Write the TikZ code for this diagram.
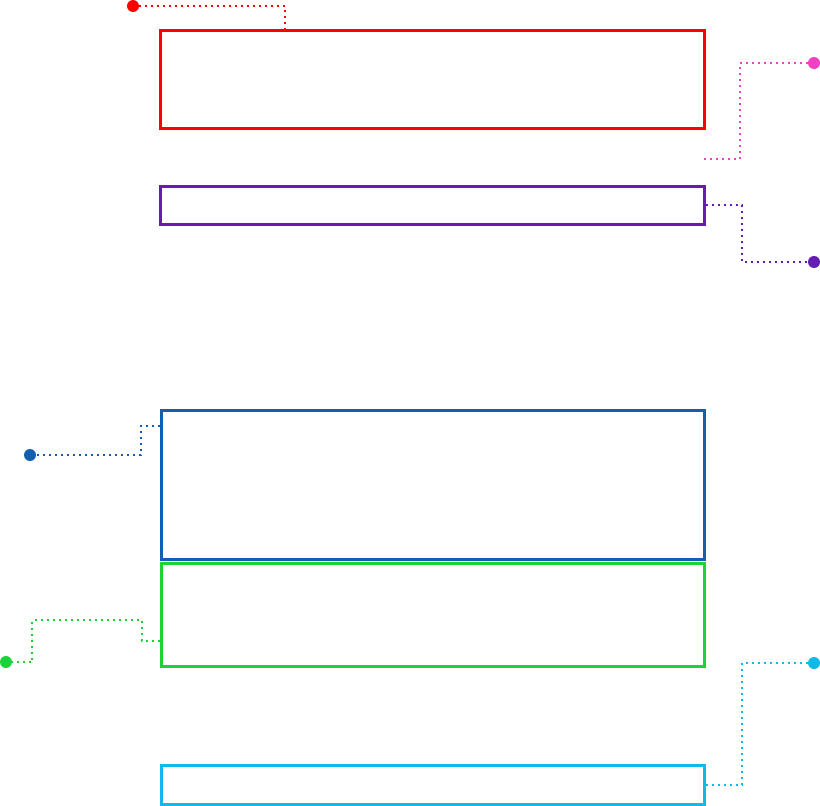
\documentclass[tikz,border=0pt]{standalone}
\begin{document}
\begin{tikzpicture}[x=1pt,y=-1pt,
  box/.style={draw=#1,line width=3pt,inner sep=0pt,minimum width=544pt},
  endpt/.style={circle,fill=#1,inner sep=0pt,minimum size=12pt},
  link/.style={draw=#1,line width=2pt,dash pattern=on 2pt off 4pt}]
\definecolor{cred}{RGB}{255,0,0}
\definecolor{cpink}{RGB}{242,64,196}
\definecolor{cpurple}{RGB}{100,28,180}
\definecolor{cblue}{RGB}{18,94,176}
\definecolor{cgreen}{RGB}{24,212,56}
\definecolor{ccyan}{RGB}{16,186,232}
\useasboundingbox (0,0) rectangle (820,806);
% boxes
\node[box=cred,minimum height=98pt] (rbox) at (432,79) {};
\node[box=cpurple,minimum height=38pt] (pubox) at (432,205) {};
\node[box=cblue,minimum width=543pt,minimum height=149pt] (bbox) at (432.5,484.5) {};
\node[box=cgreen,minimum width=543pt,minimum height=103pt] (gbox) at (432.5,614.5) {};
\node[box=ccyan,minimum width=543pt,minimum height=39pt] (cbox) at (432.5,785) {};
% end dots
\node[endpt=cred] (rdot) at (133,6) {};
\node[endpt=cpink] (pdot) at (814,63) {};
\node[endpt=cpurple] (pudot) at (814,262) {};
\node[endpt=cblue] (bdot) at (30,455) {};
\node[endpt=cgreen] (gdot) at (6,662) {};
\node[endpt=ccyan] (cdot) at (814,663) {};
\coordinate (pend) at (704,159);
% connectors
\draw[link=cred] (rdot.center) -- (285,6) -- (rbox.north west -| 285,0);
\draw[link=cpink] (pdot.center) -| (740,159) -- (pend);
\draw[link=cpurple] (pubox.east) -- ++(36,0) |- (pudot.center);
\draw[link=cblue] (bbox.north west) ++(0,17.5) -- ++(-19,0) |- (bdot.center);
\draw[link=cgreen] (gbox.south west) ++(0,-26.5) -- ++(-18,0) -- ++(0,-21) -| (32,662) -- (gdot.center);
\draw[link=ccyan] (cbox.east) -- ++(36,0) |- (cdot.center);
\end{tikzpicture}
\end{document}
